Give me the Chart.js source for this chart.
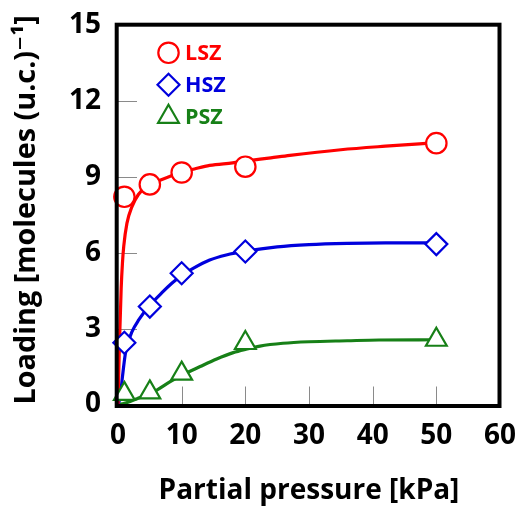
<!DOCTYPE html>
<html>
<head>
<meta charset="utf-8">
<script src="https://cdn.jsdelivr.net/npm/chart.js@4.4.1/dist/chart.umd.min.js"></script>
<style>
  html, body { margin: 0; padding: 0; background: #fff; }
  #box { width: 521px; height: 508px; }
</style>
</head>
<body>
<div id="box"><canvas id="grafico" width="521" height="508"></canvas></div>
<script>
// ===========================
// Data
// ===========================
const pressure = [1, 5, 10, 20, 50];
const lszLoading = [8.21, 8.70, 9.17, 9.40, 10.33];
const hszLoading = [2.44, 3.87, 5.19, 6.05, 6.34];
const pszLoading = [0.42, 0.48, 1.22, 2.43, 2.56];

// fitted curves
const lszFitP = [0, 0.15, 0.3, 0.5, 0.7, 0.9, 1.4, 2.2, 3.2, 4.3, 5, 6.6, 10, 12, 14.4, 18, 20, 24, 27, 35, 42, 50];
const lszFitQ = [0, 1.6, 3.0, 4.6, 5.6, 6.25, 7.16, 7.82, 8.3, 8.58, 8.68, 8.86, 9.18, 9.31, 9.45, 9.55, 9.62, 9.75, 9.85, 10.07, 10.21, 10.35];
const hszFitP = [0, 0.35, 0.7, 1.15, 1.6, 2.2, 3.25, 5, 6.9, 8.5, 10, 11.8, 14.4, 17, 20, 25, 30, 36, 42, 50];
const hszFitQ = [0, 0.3, 1.1, 2.0, 2.45, 2.88, 3.34, 3.92, 4.42, 4.8, 5.1, 5.38, 5.71, 5.91, 6.06, 6.23, 6.32, 6.37, 6.39, 6.39];
const pszFitP = [0, 1, 2, 3, 4, 5, 6.1, 8.2, 10, 12.9, 15.5, 18.1, 20, 22.3, 25.9, 30, 36, 41, 50];
const pszFitQ = [0, 0.05, 0.13, 0.23, 0.33, 0.44, 0.57, 0.9, 1.15, 1.5, 1.8, 2.05, 2.18, 2.31, 2.42, 2.48, 2.52, 2.55, 2.56];

const seriesNames = ['LSZ', 'HSZ', 'PSZ'];
const xTicks = [0, 10, 20, 30, 40, 50, 60];
const yTicks = [0, 3, 6, 9, 12, 15];

const RED = '#ff0000';
const BLUE = '#0000dd';
const GREEN = '#178017';
const FONT = "'Open Sans', 'DejaVu Sans', sans-serif";

const pares = (xs, ys) => xs.map((x, i) => ({ x: x, y: ys[i] }));

function marcador(label, ys, cor, estilo, raio) {
    return {
        label: label,
        data: pares(pressure, ys),
        showLine: false,
        pointStyle: estilo,
        pointRadius: raio,
        pointHoverRadius: raio,
        pointBorderWidth: 2.2,
        pointBackgroundColor: '#ffffff',
        pointBorderColor: cor,
        borderColor: cor,
        backgroundColor: '#ffffff',
        clip: false
    };
}

function curva(xs, ys, cor) {
    return {
        label: '',
        data: pares(xs, ys),
        showLine: true,
        pointRadius: 0,
        borderColor: cor,
        borderWidth: 3.2,
        cubicInterpolationMode: 'monotone',
        fill: false
    };
}

// ===========================
// Moldura + ticks internos
// ===========================
const molduraPlugin = {
    id: 'moldura',
    beforeDatasetsDraw(chart) {
        const { ctx, chartArea: a, scales } = chart;
        ctx.save();
        ctx.strokeStyle = '#8a8a8a';
        ctx.lineWidth = 1;
        scales.x.ticks.forEach((t, i, arr) => {
            if (i === 0 || i === arr.length - 1) return;
            const px = Math.round(scales.x.getPixelForValue(t.value)) + 0.5;
            ctx.beginPath();
            ctx.moveTo(px, a.bottom);
            ctx.lineTo(px, a.bottom - 18);
            ctx.stroke();
        });
        scales.y.ticks.forEach((t, i, arr) => {
            if (i === 0 || i === arr.length - 1) return;
            const py = Math.round(scales.y.getPixelForValue(t.value)) + 0.5;
            ctx.beginPath();
            ctx.moveTo(a.left, py);
            ctx.lineTo(a.left + 19, py);
            ctx.stroke();
        });
        ctx.restore();
    },
    afterDatasetsDraw(chart) {
        const { ctx, chartArea: a } = chart;
        ctx.save();
        ctx.strokeStyle = '#000';
        ctx.lineWidth = 4;
        ctx.strokeRect(a.left - 1.3, a.top - 0.3, a.right - a.left + 0.8, a.bottom - a.top + 1.8);
        ctx.restore();

        // legenda dentro do gráfico
        const itens = [
            { nome: seriesNames[0], cor: RED, estilo: 'circle', raio: 10.2 },
            { nome: seriesNames[1], cor: BLUE, estilo: 'rectRot', raio: 11 },
            { nome: seriesNames[2], cor: GREEN, estilo: 'triangle', raio: 12 }
        ];
        ctx.save();
        itens.forEach((it, i) => {
            const cx = a.left + 50.5;
            const cy = a.top + 27.8 + i * 32;
            ctx.fillStyle = '#fff';
            ctx.strokeStyle = it.cor;
            ctx.lineWidth = 2.2;
            Chart.helpers.drawPoint(ctx, { pointStyle: it.estilo, radius: it.raio, borderWidth: 2.2, rotation: 0 }, cx, cy);
            ctx.fillStyle = it.cor;
            ctx.font = 'bold 21.5px ' + FONT;
            ctx.textBaseline = 'middle';
            ctx.textAlign = 'left';
            ctx.fillText(it.nome, a.left + 67, cy + 1);
        });
        ctx.restore();
    }
};

const ctx = document.getElementById('grafico').getContext('2d');

const chartInstance = new Chart(ctx, {
    type: 'scatter',
    data: {
        datasets: [
            marcador(seriesNames[0], lszLoading, RED, 'circle', 10.2),
            marcador(seriesNames[1], hszLoading, BLUE, 'rectRot', 11),
            marcador(seriesNames[2], pszLoading, GREEN, 'triangle', 12),
            curva(lszFitP, lszFitQ, RED),
            curva(hszFitP, hszFitQ, BLUE),
            curva(pszFitP, pszFitQ, GREEN)
        ]
    },
    options: {
        responsive: false,
        animation: false,
        events: [],
        layout: {
            padding: { top: 25, right: 21, left: 0, bottom: 0 }
        },
        scales: {
            x: {
                type: 'linear',
                min: 0,
                max: 60,
                afterBuildTicks: s => { s.ticks = xTicks.map(v => ({ value: v })); },
                afterFit: s => { s.height = 103.5; s.paddingLeft = 0; s.paddingRight = 0; },
                ticks: {
                    color: '#000',
                    padding: 15,
                    font: { family: FONT, size: 28, weight: 'bold' }
                },
                grid: { display: false, drawTicks: false },
                border: { display: false },
                title: {
                    display: true,
                    text: 'Partial pressure [kPa]',
                    color: '#000',
                    font: { family: FONT, size: 28, weight: 'bold' },
                    padding: { top: 0, bottom: 0 }
                }
            },
            y: {
                type: 'linear',
                min: 0,
                max: 15,
                afterBuildTicks: s => { s.ticks = yTicks.map(v => ({ value: v })); },
                afterFit: s => { s.width = 118; s.paddingTop = 0; s.paddingBottom = 0; },
                ticks: {
                    color: '#000',
                    padding: 17,
                    font: { family: FONT, size: 28, weight: 'bold' }
                },
                grid: { display: false, drawTicks: false },
                border: { display: false },
                title: {
                    display: true,
                    align: 'start',
                    text: 'Loading [molecules (u.c.)\u207B\u00B9]',
                    color: '#000',
                    font: { family: FONT, size: 28.8, weight: 'bold' },
                    padding: { top: 10, bottom: 0 }
                }
            }
        },
        plugins: {
            legend: { display: false },
            tooltip: { enabled: false }
        }
    },
    plugins: [molduraPlugin]
});
</script>
</body>
</html>
